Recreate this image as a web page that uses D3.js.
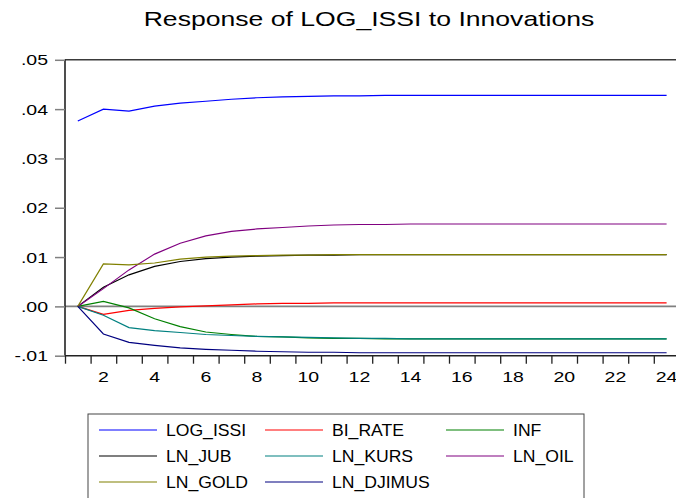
<!DOCTYPE html>
<html><head><meta charset="utf-8">
<script src="https://cdn.jsdelivr.net/npm/d3@7/dist/d3.min.js"></script>
<style>body{margin:0;background:#fff}svg{display:block}text{font-family:Arial,"Liberation Sans",sans-serif;fill:#000}</style>
</head><body><svg id="c" width="676" height="498"></svg>
<script>
const titleText = "Response of LOG_ISSI to Innovations";
const periods = d3.range(1, 25);
const xTickLabels = [2,4,6,8,10,12,14,16,18,20,22,24];
const yTickValues = [-0.01, 0, 0.01, 0.02, 0.03, 0.04, 0.05];
const yTickLabels = ["-.01", ".00", ".01", ".02", ".03", ".04", ".05"];
const seriesNames = ["LOG_ISSI","BI_RATE","INF","LN_JUB","LN_KURS","LN_OIL","LN_GOLD","LN_DJIMUS"];
const seriesColors = ["#0000FF","#FF0000","#008000","#000000","#008080","#800080","#808000","#000080"];
const LOG_ISSI = [0.0376,0.0400,0.0396,0.0406,0.0412,0.0416,0.0420,0.0423,0.0425,0.0426,0.0427,0.0427,0.0428,0.0428,0.0428,0.0428,0.0428,0.0428,0.0428,0.0428,0.0428,0.0428,0.0428,0.0428];
const BI_RATE = [0,-0.0016,-0.0008,-0.0004,-0.0001,0.0001,0.0003,0.0005,0.0006,0.0006,0.0007,0.0007,0.0007,0.0007,0.0007,0.0007,0.0007,0.0007,0.0007,0.0007,0.0007,0.0007,0.0007,0.0007];
const INF = [0,0.0010,-0.0003,-0.0025,-0.0041,-0.0052,-0.0057,-0.0061,-0.0062,-0.0064,-0.0065,-0.0065,-0.0066,-0.0066,-0.0066,-0.0066,-0.0066,-0.0066,-0.0066,-0.0066,-0.0066,-0.0066,-0.0066,-0.0066];
const LN_JUB = [0,0.0039,0.0064,0.0081,0.0091,0.0097,0.0100,0.0102,0.0103,0.0104,0.0104,0.0105,0.0105,0.0105,0.0105,0.0105,0.0105,0.0105,0.0105,0.0105,0.0105,0.0105,0.0105,0.0105];
const LN_KURS = [0,-0.0018,-0.0043,-0.0049,-0.0053,-0.0057,-0.0059,-0.0061,-0.0062,-0.0063,-0.0064,-0.0065,-0.0065,-0.0066,-0.0066,-0.0066,-0.0066,-0.0066,-0.0066,-0.0066,-0.0066,-0.0066,-0.0066,-0.0066];
const LN_OIL = [0,0.0036,0.0074,0.0106,0.0128,0.0143,0.0152,0.0157,0.0160,0.0163,0.0165,0.0166,0.0166,0.0167,0.0167,0.0167,0.0167,0.0167,0.0167,0.0167,0.0167,0.0167,0.0167,0.0167];
const LN_GOLD = [0,0.0086,0.0084,0.0088,0.0096,0.0100,0.0102,0.0103,0.0104,0.0104,0.0105,0.0105,0.0105,0.0105,0.0105,0.0105,0.0105,0.0105,0.0105,0.0105,0.0105,0.0105,0.0105,0.0105];
const LN_DJIMUS = [0,-0.0056,-0.0073,-0.0079,-0.0084,-0.0087,-0.0089,-0.0091,-0.0092,-0.0093,-0.0093,-0.0094,-0.0094,-0.0094,-0.0094,-0.0094,-0.0094,-0.0094,-0.0094,-0.0094,-0.0094,-0.0094,-0.0094,-0.0094];
const seriesValues = [LOG_ISSI,BI_RATE,INF,LN_JUB,LN_KURS,LN_OIL,LN_GOLD,LN_DJIMUS];

const svg = d3.select("#c");
const plotLeft = 65, plotTop = 59.8, plotBottom = 355.7, step = 25.6;
const x = d3.scaleLinear().domain([0.5, 24.5]).range([plotLeft, plotLeft + 24*step]);
const y = d3.scaleLinear().domain([-0.01, 0.05]).range([plotBottom, plotTop]);

// title
svg.append("text").attr("transform","translate(369,26) scale(1.33,1)")
  .attr("text-anchor","middle").style("font-size","20px").text(titleText);

// zero line
svg.append("line").attr("x1",plotLeft).attr("x2",676).attr("y1",y(0)).attr("y2",y(0))
  .attr("stroke","#808080").attr("stroke-width",1.6);

// series
const line = d3.line().x((d,i)=>x(periods[i])).y(d=>y(d));
seriesValues.forEach((vals,k)=>{
  svg.append("path").attr("d",line(vals)).attr("fill","none")
    .attr("stroke",seriesColors[k]).attr("stroke-width",1.2);
});

// frame
svg.append("line").attr("x1",plotLeft).attr("x2",676).attr("y1",plotTop).attr("y2",plotTop).attr("stroke","#3a3a3a").attr("stroke-width",1.5);
svg.append("line").attr("x1",plotLeft).attr("x2",676).attr("y1",plotBottom).attr("y2",plotBottom).attr("stroke","#222").attr("stroke-width",1.6);
svg.append("line").attr("x1",plotLeft).attr("x2",plotLeft).attr("y1",plotTop).attr("y2",plotBottom).attr("stroke","#222").attr("stroke-width",1.6);

// y axis ticks
const yAxis = d3.axisLeft(y).tickValues(yTickValues).tickSize(10).tickFormat("");
const gy = svg.append("g").attr("transform",`translate(${plotLeft},0)`).call(yAxis);
gy.select(".domain").remove();
gy.selectAll(".tick line").attr("stroke","#808080").attr("stroke-width",1.5);
yTickValues.forEach((v,i)=>{
  svg.append("text").attr("transform",`translate(48,${y(v)+5.5}) scale(1.3,1)`)
    .attr("text-anchor","end").style("font-size","15px").text(yTickLabels[i]);
});

// x axis ticks at period boundaries
const xb = d3.range(0,24).map(k=>k+0.5);
const xAxis = d3.axisBottom(x).tickValues(xb).tickSize(8).tickFormat("");
const gx = svg.append("g").attr("transform",`translate(0,${plotBottom})`).call(xAxis);
gx.select(".domain").remove();
gx.selectAll(".tick line").attr("stroke","#222").attr("stroke-width",1.3);
xTickLabels.forEach(p=>{
  svg.append("text").attr("transform",`translate(${x(p)},382) scale(1.3,1)`)
    .attr("text-anchor","middle").style("font-size","15px").text(p);
});

// legend
svg.append("rect").attr("x",88).attr("y",414).attr("width",496).attr("height",100)
  .attr("fill","none").attr("stroke","#444").attr("stroke-width",1);
const colLine = [99, 265, 446], colText = [166, 332, 513];
const rowY = [430, 456, 482];
seriesNames.forEach((n,i)=>{
  const r = Math.floor(i/3), c = i%3;
  svg.append("line").attr("x1",colLine[c]).attr("x2",colLine[c]+58)
    .attr("y1",rowY[r]).attr("y2",rowY[r]).attr("stroke",seriesColors[i]).attr("stroke-width",1.2);
  svg.append("text").attr("transform",`translate(${colText[c]},${rowY[r]+6}) scale(1.1,1)`)
    .style("font-size","16px").text(n);
});
</script></body></html>
